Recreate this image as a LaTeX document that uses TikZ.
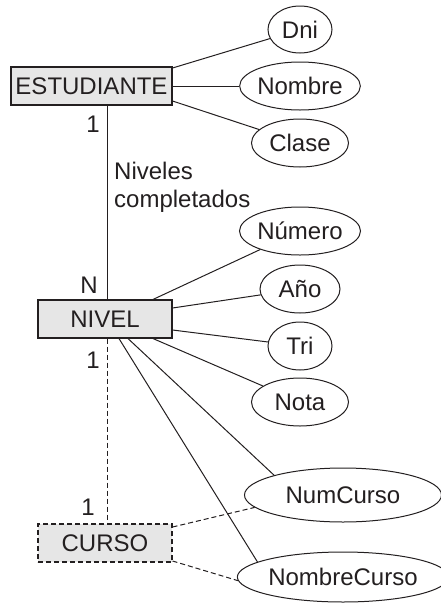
\documentclass[tikz,border=0pt]{standalone}
\usepackage{fontspec}
\setmainfont{Liberation Sans}
\usetikzlibrary{shapes.geometric}
\definecolor{boxgray}{HTML}{E6E6E6}
\definecolor{ink}{HTML}{231F20}
\begin{document}
\begin{tikzpicture}[x=1pt,y=-1pt,
  every node/.style={font=\fontsize{24}{28}\selectfont, text=ink},
  entity/.style={draw=ink, line width=1.1pt, fill=boxgray, minimum height=38pt, inner sep=0pt},
  weakent/.style={entity, dashed, dash pattern=on 5pt off 3pt},
  attr/.style={draw=ink, line width=1pt, ellipse, fill=white, inner sep=0pt, minimum height=48pt},
  conn/.style={draw=ink, line width=1pt},
  dconn/.style={conn, dash pattern=on 5pt off 3pt},
  card/.style={inner sep=0pt}]
\useasboundingbox (0,0) rectangle (441,603);
% entities
\node[entity, minimum width=161pt] (E) at (91.5,86) {ESTUDIANTE};
\node[entity, minimum width=134pt] (N) at (105,319) {NIVEL};
\node[weakent, minimum width=134pt] (C) at (105,543) {CURSO};
% attributes
\node[attr, minimum width=64pt, minimum height=47pt] (dni) at (300,29.5) {Dni};
\node[attr, minimum width=99pt] (nombre) at (300,86) {Nombre};
\node[attr, minimum width=97pt] (clase) at (300,143) {Clase};
\node[attr, minimum width=121pt] (numero) at (300,231) {Número};
\node[attr, minimum width=80pt] (anio) at (300,289) {Año};
\node[attr, minimum width=64pt] (tri) at (300,346) {Tri};
\node[attr, minimum width=97pt] (nota) at (300,402) {Nota};
\node[attr, minimum width=197pt, minimum height=54pt] (numcurso) at (343,495) {NumCurso};
\node[attr, minimum width=197pt, minimum height=50pt] (nombrecurso) at (343,577) {NombreCurso};
% relationship lines
\draw[conn] ([xshift=2pt]N.north) -- ([xshift=2pt]N.north |- E.south);
\draw[dconn] ([xshift=2pt]N.south) -- ([xshift=2pt]C.north);
% attribute connectors
\draw[conn] ([yshift=18pt]E.east) -- (dni);
\draw[conn] (E.east) -- (nombre);
\draw[conn] ([yshift=-15pt]E.east) -- (clase);
\draw[conn] ([xshift=48pt]N.north) -- (numero);
\draw[conn] ([yshift=11pt]N.east) -- (anio);
\draw[conn] ([yshift=-11pt]N.east) -- (tri);
\draw[conn] ([xshift=48pt]N.south) -- (nota);
\draw[conn] ([xshift=23pt]N.south) -- (numcurso.164);
\draw[conn] ([xshift=14pt]N.south) -- (nombrecurso.170);
\draw[dconn] ([yshift=16pt]C.east) -- (numcurso.188);
\draw[dconn] ([yshift=-18pt]C.east) -- (nombrecurso.182);
% cardinalities
\node[card] (c1) at (93,124) {1};
\node[card] (cN) at (89,285) {N};
\node[card] (c2) at (93,360) {1};
\node[card] (c3) at (88,507) {1};
\node[anchor=west, align=left, inner sep=0pt] (rel) at (114,187) {Niveles\\completados};
\end{tikzpicture}
\end{document}
